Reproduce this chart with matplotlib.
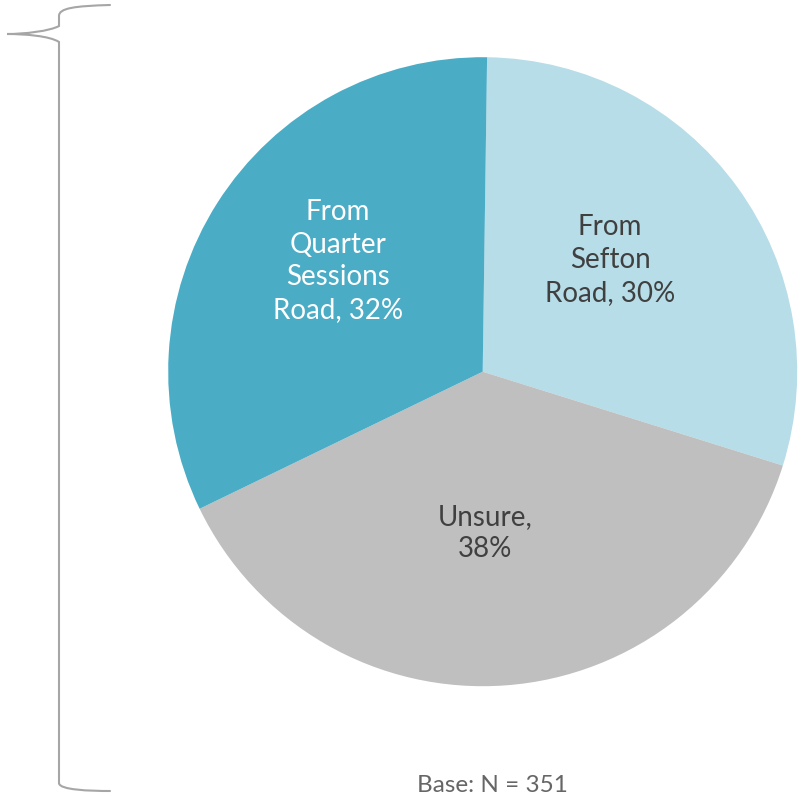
import matplotlib
matplotlib.use("Agg")
import matplotlib.pyplot as plt
from matplotlib.path import Path
from matplotlib.patches import PathPatch

labels = ["From\nSefton\nRoad, 30%", "Unsure,\n38%", "From\nQuarter\nSessions\nRoad, 32%"]
shares = [29.6, 38.0, 32.4]
colors = ["#B7DDE8", "#BFBFBF", "#4BACC6"]
text_colors = ["#404040", "#404040", "#FFFFFF"]
base_note = "Base: N = 351"

W = H = 801
fig = plt.figure(figsize=(8.01, 8.01), dpi=100)
ax = fig.add_axes([0, 0, 1, 1])

cx, cy, r = 482.7, H - 371.7, 314.5
ax.pie(shares, colors=colors, startangle=89.2, counterclock=False,
       center=(cx, cy), radius=r, frame=True, wedgeprops=dict(linewidth=0))
ax.set_xlim(0, W)
ax.set_ylim(0, H)
ax.set_aspect("equal")
ax.axis("off")

font = dict(family=["Lato", "DejaVu Sans"], fontweight="normal")

# label positions (pixel coords from top-left)
label_pos = [(610, 260), (485, 533), (338, 261)]
for lab, (lx, ly), tc in zip(labels, label_pos, text_colors):
    ax.text(lx, H - ly, lab, ha="center", va="center", color=tc,
            linespacing=1.32, fontsize=20, **font)

ax.text(492, H - 786, base_note, ha="center", va="center", color="#666666",
        fontsize=17.5, **font)

# curly bracket on the left
def P(x, y):
    return (x, H - y)

verts = [P(110, 5), P(75, 6), P(59, 8), P(59, 16),
         P(59, 24), P(59, 26), P(59, 26),
         P(50, 31), P(25, 34), P(7, 34),
         P(25, 34), P(50, 36), P(59, 42),
         P(59, 783),
         P(59, 790), P(90, 791), P(110, 791)]
codes = [Path.MOVETO, Path.CURVE4, Path.CURVE4, Path.CURVE4,
         Path.LINETO, Path.LINETO, Path.LINETO,
         Path.CURVE4, Path.CURVE4, Path.CURVE4,
         Path.CURVE4, Path.CURVE4, Path.CURVE4,
         Path.LINETO,
         Path.CURVE4, Path.CURVE4, Path.CURVE4]
ax.add_patch(PathPatch(Path(verts, codes), fill=False, edgecolor="#A6A6A6",
                       linewidth=1.5, capstyle="round"))

fig.savefig("out.png", dpi=100)
